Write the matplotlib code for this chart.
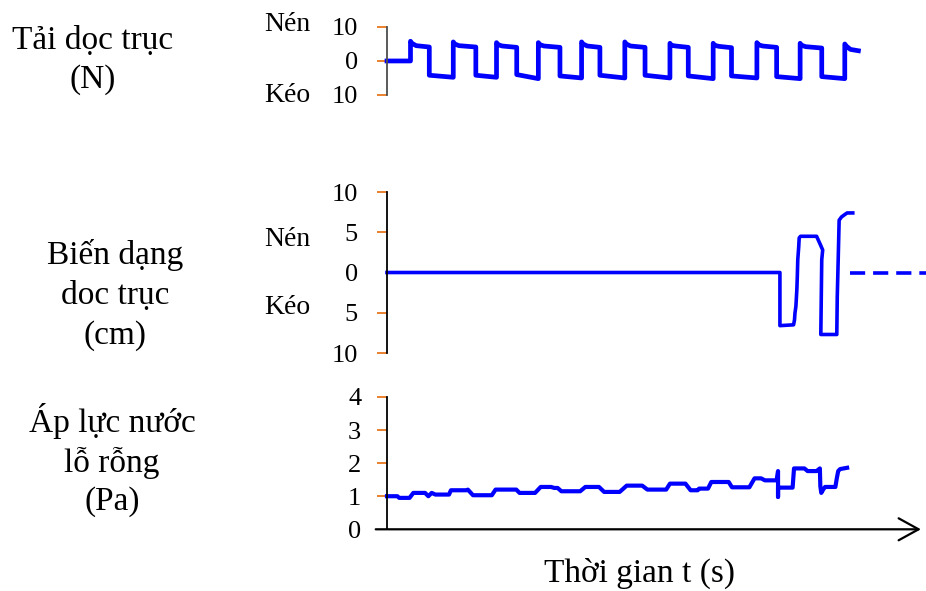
'''
Loading history of a cyclic triaxial test: axial load, axial strain and pore pressure
'''
import matplotlib
matplotlib.use('Agg')
import matplotlib.pyplot     as plt
import matplotlib.transforms as mtrans

plt.rcParams['font.family'] = ['Liberation Serif', 'DejaVu Serif']

BLUE   = '#0000FF'
ORANGE = '#E46C0A'
T_MAX  = 115

# Axial load (N): square cycles, switch times in s
load_rise_t     = [5.0, 14.1, 23.3, 32.2, 41.4, 50.6, 60.2, 69.4, 78.7, 87.9, 97.4]
load_fall_t     = [9.0, 18.9, 27.6, 36.8, 45.3, 54.9, 64.1, 73.3, 82.9, 92.5]
load_peak       = [5.8, 5.6, 5.4, 5.4, 5.6, 5.6, 5.2, 5.2, 5.4, 5.2, 5.0]
load_high       = [4.1, 4.1, 4.0, 4.0, 4.0, 4.0, 4.0, 3.9, 4.0, 3.8, 3.0]
load_low_start  = [-4.2, -4.2, -4.0, -4.4, -4.2, -4.2, -4.4, -4.4, -4.6, -4.6]
load_low_end    = [-4.8, -4.8, -5.2, -5.0, -5.0, -5.0, -5.2, -5.0, -5.2, -5.2]
load_end_t      = 100.3

# Axial strain (cm)
strain_t = [0, 83.6, 83.6, 86.5, 86.7, 86.8, 87.0, 87.2, 87.3, 87.4, 87.6, 87.7, 88.0,
            91.4, 92.1, 92.7, 92.5, 92.3, 95.7, 95.8, 96.0, 96.2, 96.7, 97.4, 97.9, 99.1]
strain_v = [0, 0, -6.6, -6.5, -5.9, -5.05, -4.2, -2.15, -0.5, 1.6, 3.2, 4.3, 4.5,
            4.5, 3.6, 2.8, 1.6, -7.7, -7.7, -3.0, 1.6, 6.5, 6.9, 7.2, 7.4, 7.4]
strain_dash_t = [98.5, 116]
strain_dash_v = [0, 0]

# Pore water pressure (Pa)
pore_t = [0, 2.2, 2.6, 4.8, 5.6, 8.1, 8.8, 9.5, 10.3, 13.2, 13.6, 16.9, 17.2, 18.3, 22.3,
          23.1, 27.5, 28.2, 31.5, 32.7, 34.9, 35.6, 36.3, 37.1, 41.1, 42.2, 45.1, 46.2,
          49.5, 51.0, 54.3, 55.4, 59.4, 60.2, 63.5, 64.6, 66.1, 66.4, 68.3, 69.0, 72.7,
          73.4, 77.1, 78.2, 79.6, 80.4, 82.9, 83.2, 83.2, 83.2, 86.3, 86.6, 88.8, 89.5,
          91.4, 92.1, 92.2, 92.4, 92.8, 93.2, 95.4, 95.7, 96.0, 96.4, 97.9]
pore_v = [1.0, 1.0, 0.95, 0.95, 1.1, 1.1, 1.0, 1.1, 1.05, 1.05, 1.18, 1.18, 1.2, 1.03, 1.03,
          1.2, 1.2, 1.1, 1.1, 1.28, 1.28, 1.25, 1.25, 1.15, 1.15, 1.28, 1.28, 1.13,
          1.13, 1.32, 1.32, 1.2, 1.2, 1.38, 1.38, 1.18, 1.18, 1.23, 1.23, 1.43, 1.43,
          1.27, 1.27, 1.54, 1.54, 1.48, 1.48, 1.76, 0.98, 1.26, 1.26, 1.84, 1.84, 1.76,
          1.76, 1.84, 1.3, 1.1, 1.2, 1.28, 1.28, 1.54, 1.76, 1.82, 1.86]
# ----------------------------
def _load_series() -> tuple[list, list]:
    '''
    Builds the square wave of the axial load from the switch times
    '''
    t_val = [0.0]
    y_val = [0.0]
    for i_cyc, t_rise in enumerate(load_rise_t):
        t_fall = load_fall_t[i_cyc] if i_cyc < len(load_fall_t) else load_end_t
        t_val += [t_rise, t_rise, t_rise + 0.3, t_rise + 1.2, t_fall]
        y_val += [y_val[-1], load_peak[i_cyc], load_peak[i_cyc] - 0.6, load_high[i_cyc] + 0.4, load_high[i_cyc]]
        if i_cyc >= len(load_fall_t):
            break

        t_next = load_rise_t[i_cyc + 1]
        t_val += [t_fall, t_next]
        y_val += [load_low_start[i_cyc], load_low_end[i_cyc]]

    return t_val, y_val
# ----------------------------
def _style_axis(ax, ylim : tuple, ticks : list, labels : list, pad : float, spine : str) -> None:
    ax.set_xlim(0, T_MAX)
    ax.set_ylim(*ylim)
    ax.patch.set_alpha(0)
    for side in ['top', 'right', 'bottom']:
        ax.spines[side].set_visible(False)

    ax.spines['left'].set_color(spine)
    ax.spines['left'].set_linewidth(1.3)
    ax.set_xticks([])
    ax.set_yticks(ticks, labels)
    ax.tick_params(axis='y', direction='out', length=7.5, width=1.2, color=ORANGE, pad=pad, labelsize=19)
# ----------------------------
def main():
    fig = plt.figure(figsize=(9.26, 5.91), dpi=100)

    left  = 387 / 926
    width = 540.5 / 926
    ax_load   = fig.add_axes([left, 0.8393, width, 0.1151])
    ax_strain = fig.add_axes([left, 0.4027, width, 0.2724])
    ax_pore   = fig.add_axes([left, 0.1044, width, 0.2239])

    _style_axis(ax_load  , (-10, 10), [10, 0, -10], ['10', '0', '10'], 13.5, '#4d4d4d')
    _style_axis(ax_strain, (-10, 10), [10, 5, 0, -5, -10], ['10', '5', '0', '5', '10'], 13.5, 'black')
    _style_axis(ax_pore  , (0, 4), [0, 1, 2, 3, 4], ['0', '1', '2', '3', '4'], 11, 'black')
    ax_strain.yaxis.get_major_ticks()[2].tick1line.set_visible(False)
    ax_pore.yaxis.get_major_ticks()[0].tick1line.set_visible(False)

    t_load, v_load = _load_series()
    ax_load.plot(t_load, v_load, color=BLUE, lw=3.4, clip_on=False, solid_joinstyle='round')
    ax_strain.plot(strain_t, strain_v, color=BLUE, lw=2.6, clip_on=False)
    ax_strain.plot(strain_dash_t, strain_dash_v, color=BLUE, lw=2.6, clip_on=False, linestyle=(0, (4.2, 2.2)))
    ax_pore.plot(pore_t, pore_v, color=BLUE, lw=3.0, clip_on=False)

    ax_pore.annotate('', xy=(113.6, 0), xytext=(-2.4, 0), annotation_clip=False,
                     arrowprops=dict(arrowstyle='->,head_length=0.4,head_width=0.22', lw=1.6,
                                     color='black', mutation_scale=36, shrinkA=0, shrinkB=0))

    # Compression / tension markers beside the tick labels
    for ax, y_nen, y_keo in [(ax_load, 11.5, -9.3), (ax_strain, 4.5, -4.0)]:
        trans = mtrans.blended_transform_factory(fig.transFigure, ax.transData)
        ax.text(287.5 / 926, y_nen, 'Nén', transform=trans, ha='center', va='center_baseline', fontsize=20)
        ax.text(287.5 / 926, y_keo, 'Kéo', transform=trans, ha='center', va='center_baseline', fontsize=20)

    fig.text( 93 / 926, 0.898 , 'Tải dọc trục\n(N)'          , ha='center', va='center', fontsize=24, linespacing=1.38)
    fig.text(115 / 926, 0.5008, 'Biến dạng\ndoc trục\n(cm)'  , ha='center', va='center', fontsize=24, linespacing=1.38)
    fig.text(112 / 926, 0.2217, 'Áp lực nước\nlỗ rỗng\n(Pa)' , ha='center', va='center', fontsize=24, linespacing=1.32)
    fig.text(640 / 926, 0.0305, 'Thời gian t (s)'            , ha='center', va='center', fontsize=24)

    fig.savefig('out.png', dpi=100)
    plt.close(fig)
# ----------------------------
if __name__ == '__main__':
    main()
